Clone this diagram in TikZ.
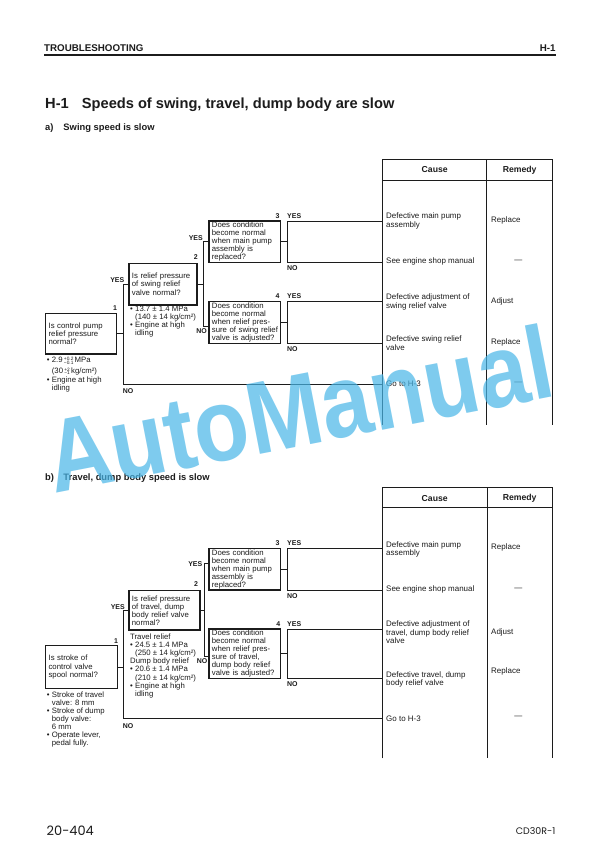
\documentclass[tikz,border=0pt]{standalone}
\usepackage{fontspec}
\usepackage{graphicx}
\setmainfont{Liberation Sans}
\newfontfamily\footf{Poppins}
\definecolor{ink}{RGB}{28,28,28}
\definecolor{wm}{RGB}{72,182,232}
\newcommand\sm{\fontsize{7.8}{8.1}\selectfont}
\newcommand\cs{\fontsize{8}{8.3}\selectfont}
\newcommand\lbf{\bfseries\fontsize{7}{7}\selectfont}
\newcommand\tp{\rule{0pt}{5.7bp}}
\newcommand\bl{\makebox[5bp][l]{•}}
\newcommand\ind{\hspace*{5bp}}
\newcommand\tol[2]{\,\raisebox{2.1bp}{\makebox[0pt][l]{\fontsize{4.8}{4.8}\selectfont #1}}\raisebox{-1.5bp}{\fontsize{4.8}{4.8}\selectfont #2}\,}
\begin{document}
\begin{tikzpicture}[x=1bp,y=-1bp,
  qbox/.style={draw=ink,line width=1.3bp,inner xsep=2.9bp,inner ysep=0pt,outer sep=0pt,align=left,font=\sm,text=ink,anchor=north west},
  note/.style={inner sep=0pt,align=left,font=\sm,anchor=north west,text=ink},
  lab/.style={inner sep=0pt,font=\lbf,text=ink},
  conn/.style={draw=ink,line width=0.9bp},
  tabl/.style={draw=ink,line width=1bp},
  cause/.style={inner sep=0pt,align=left,font=\cs,anchor=west,text=ink},
  rem/.style={inner sep=0pt,font=\cs,anchor=west,text=ink},
  remdash/.style={inner sep=0pt,font=\cs,anchor=center,text=ink},
  hd/.style={inner sep=0pt,font=\bfseries\fontsize{8.7}{9}\selectfont,text=ink},
  ttl/.style={inner sep=0pt,anchor=base west,text=ink}
]
\useasboundingbox[fill=white] (0,0) rectangle (612,862);

% ---------- page header ----------
\node[ttl,font=\bfseries\fontsize{9.8}{10}\selectfont] (hdl) at (44,51) {TROUBLESHOOTING};
\node[ttl,anchor=base east,font=\bfseries\fontsize{9.8}{10}\selectfont] (hdr) at (555.7,51) {H-1};
\draw[ink,line width=1.4bp] (44,54.8) -- (556,54.8);
\node[ttl,font=\bfseries\fontsize{14.7}{15}\selectfont] (tnum) at (45,108.5) {H-1};
\node[ttl,font=\bfseries\fontsize{14.7}{15}\selectfont] (ttxt) at (81.7,108.5) {Speeds of swing, travel, dump body are slow};
\node[ttl,font=\bfseries\fontsize{9.4}{10}\selectfont] (sa) at (45,130) {a)};
\node[ttl,font=\bfseries\fontsize{9.4}{10}\selectfont] (sat) at (63.3,130) {Swing speed is slow};
\node[ttl,font=\bfseries\fontsize{9.4}{10}\selectfont] (sb) at (45,480.5) {b)};
\node[ttl,font=\bfseries\fontsize{9.4}{10}\selectfont] (sbt) at (63.3,480.5) {Travel, dump body speed is slow};

% ================= SECTION A =================
\coordinate (Ta) at (382.7,159.3);
\draw[tabl] (382.7,425) -- (Ta) -- (552.7,159.3) -- (552.7,425);
\draw[tabl] (486.7,159.3) -- (486.7,425);
\draw[ink,line width=1.3bp] (382.7,180.7) -- (552.7,180.7);
\node[hd] (cha) at (434.7,170) {Cause};
\node[hd] (rha) at (519.7,170) {Remedy};

\node[qbox,minimum width=71bp,minimum height=40.7bp,text width=65.2bp] (q1a) at (45.7,313.3) {\mbox{Is control pump}\\\mbox{relief pressure}\\normal?};
\node[qbox,minimum width=68bp,minimum height=41.7bp,text width=62.2bp] (q2a) at (129,263.3) {\mbox{Is relief pressure}\\\mbox{of swing relief}\\\mbox{valve normal?}};
\node[qbox,minimum width=71.7bp,minimum height=41.3bp,text width=65.9bp] (q3a) at (209,221) {\mbox{Does condition}\\\mbox{become normal}\\\mbox{when main pump}\\\mbox{assembly is}\\replaced?};
\node[qbox,minimum width=71.7bp,minimum height=41.6bp,text width=65.9bp] (q4a) at (209,301.7) {\mbox{Does condition}\\\mbox{become normal}\\\mbox{when relief pres-}\\\mbox{sure of swing relief}\\\mbox{valve is adjusted?}};

\node[note] (n1a) at (46.7,356.8) {\tp\bl 2.9\tol{+0.2}{−0.1}MPa\\[2.4bp]\ind(30\tol{+2}{−1}kg/cm²)\\[0.8bp]\bl Engine at high\\\ind idling};
\node[note] (n2a) at (130,305.3) {\tp\bl 13.7 ± 1.4 MPa\\\ind(140 ± 14 kg/cm²)\\\bl Engine at high\\\ind idling};

\node[lab,anchor=base east] (l1a) at (117.3,310.8) {1};
\node[lab,anchor=base east] (l2a) at (198,259.2) {2};
\node[lab,anchor=base east] (l3a) at (279.7,218.2) {3};
\node[lab,anchor=base east] (l4a) at (279.7,298.8) {4};
\node[lab,anchor=base east] (y1a) at (124.5,282.5) {YES};
\node[lab,anchor=base west] (o1a) at (122.7,393.2) {NO};
\node[lab,anchor=base east] (y2a) at (203,240.2) {YES};
\node[lab,anchor=base east] (o2a) at (207,333.5) {NO};
\node[lab,anchor=base west] (y3a) at (287,218.2) {YES};
\node[lab,anchor=base west] (o3a) at (287,270.8) {NO};
\node[lab,anchor=base west] (y4a) at (287,298.8) {YES};
\node[lab,anchor=base west] (o4a) at (287,351.5) {NO};

\coordinate (v1a) at (123.3,384.3);
\coordinate (e5a) at (382.7,384.3);
\coordinate (v2a) at (203.3,326);
\coordinate (v3a) at (287,240);
\draw[conn] (q1a.east) -- (q1a.east -| v1a);
\draw[conn] (q2a.west) -| (v1a) -- (e5a);
\draw[conn] (q2a.east) -- (q2a.east -| v2a);
\draw[conn] (q3a.west) -| (v2a) -- (v2a -| q4a.west);
\draw[conn] (q3a.east) -- (q3a.east -| v3a);
\draw[conn] (q3a.north -| Ta) -- (q3a.north -| v3a) -- (q3a.south -| v3a) -- (q3a.south -| Ta);
\draw[conn] (q4a.east) -- (q4a.east -| v3a);
\draw[conn] (q4a.north -| Ta) -- (q4a.north -| v3a) -- (q4a.south -| v3a) -- (q4a.south -| Ta);

\node[cause] (c1a) at (386,220.9) {Defective main pump\\assembly};
\node[cause] (c2a) at (386,261.7) {See engine shop manual};
\node[cause] (c3a) at (386,302) {Defective adjustment of\\swing relief valve};
\node[cause] (c4a) at (386,343.2) {Defective swing relief\\valve};
\node[cause] (c5a) at (386,383.8) {Go to H-3};
\node[rem] (m1a) at (491,220.7) {Replace};
\node[remdash] (m2a) at (518.3,261.3) {—};
\node[rem] (m3a) at (491,301.7) {Adjust};
\node[rem] (m4a) at (491,342.3) {Replace};
\node[remdash] (m5a) at (518.3,383.3) {—};

% ================= SECTION B =================
\coordinate (Tb) at (382.7,487.3);
\draw[tabl] (382.7,758.3) -- (Tb) -- (552.7,487.3) -- (552.7,758.3);
\draw[tabl] (487.3,487.3) -- (487.3,758.3);
\draw[ink,line width=1.3bp] (382.7,507.7) -- (552.7,507.7);
\node[hd] (chb) at (434.7,498.3) {Cause};
\node[hd] (rhb) at (519.7,498.3) {Remedy};

\node[qbox,minimum width=71.6bp,minimum height=42.6bp,text width=65.8bp] (q1b) at (45.7,645.7) {\mbox{Is stroke of}\\\mbox{control valve}\\\mbox{spool normal?}};
\node[qbox,minimum width=71bp,minimum height=39.3bp,text width=65.2bp] (q2b) at (129,590.7) {\mbox{Is relief pressure}\\\mbox{of travel, dump}\\\mbox{body relief valve}\\normal?};
\node[qbox,minimum width=71.7bp,minimum height=41.7bp,text width=65.9bp] (q3b) at (209,548.3) {\mbox{Does condition}\\\mbox{become normal}\\\mbox{when main pump}\\\mbox{assembly is}\\replaced?};
\node[qbox,minimum width=71.7bp,minimum height=49.3bp,text width=65.9bp] (q4b) at (209,629) {\mbox{Does condition}\\\mbox{become normal}\\\mbox{when relief pres-}\\\mbox{sure of travel,}\\\mbox{dump body relief}\\\mbox{valve is adjusted?}};

\node[note] (n1b) at (46.7,691.5) {\tp\bl Stroke of travel\\\ind valve: 8 mm\\\bl Stroke of dump\\\ind body valve:\\\ind 6 mm\\\bl Operate lever,\\\ind pedal fully.};
\node[note] (n2b) at (130,633.8) {\tp Travel relief\\\bl 24.5 ± 1.4 MPa\\\ind(250 ± 14 kg/cm²)\\Dump body relief\\\bl 20.6 ± 1.4 MPa\\\ind(210 ± 14 kg/cm²)\\\bl Engine at high\\\ind idling};

\node[lab,anchor=base east] (l1b) at (118.3,643.5) {1};
\node[lab,anchor=base east] (l2b) at (198.3,586.8) {2};
\node[lab,anchor=base east] (l3b) at (279.7,545.8) {3};
\node[lab,anchor=base east] (l4b) at (280.5,626.5) {4};
\node[lab,anchor=base east] (y1b) at (125,609.8) {YES};
\node[lab,anchor=base west] (o1b) at (122.7,728.5) {NO};
\node[lab,anchor=base east] (y2b) at (202.5,566) {YES};
\node[lab,anchor=base east] (o2b) at (207.5,663.5) {NO};
\node[lab,anchor=base west] (y3b) at (287,545.8) {YES};
\node[lab,anchor=base west] (o3b) at (287,598.2) {NO};
\node[lab,anchor=base west] (y4b) at (287,626.5) {YES};
\node[lab,anchor=base west] (o4b) at (287,686.5) {NO};

\coordinate (v1b) at (123.3,718.3);
\coordinate (e5b) at (382.7,718.3);
\coordinate (t2b) at (204,563.5);
\coordinate (v2b) at (204,656);
\coordinate (v3b) at (287,600);
\draw[conn] (q1b.east) -- (q1b.east -| v1b);
\draw[conn] (q2b.west) -| (v1b) -- (e5b);
\draw[conn] (q2b.east) -- (q2b.east -| v2b);
\draw[conn] (t2b -| q3b.west) -- (t2b) -- (v2b) -- (v2b -| q4b.west);
\draw[conn] (q3b.east) -- (q3b.east -| v3b);
\draw[conn] (q3b.north -| Tb) -- (q3b.north -| v3b) -- (q3b.south -| v3b) -- (q3b.south -| Tb);
\draw[conn] (q4b.east) -- (q4b.east -| v3b);
\draw[conn] (q4b.north -| Tb) -- (q4b.north -| v3b) -- (q4b.south -| v3b) -- (q4b.south -| Tb);

\node[cause] (c1b) at (386,549.2) {Defective main pump\\assembly};
\node[cause] (c2b) at (386,589.6) {See engine shop manual};
\node[cause] (c3b) at (386,632.3) {Defective adjustment of\\travel, dump body relief\\valve};
\node[cause] (c4b) at (386,679.5) {Defective travel, dump\\body relief valve};
\node[cause] (c5b) at (386,718.5) {Go to H-3};
\node[rem] (m1b) at (491,547.3) {Replace};
\node[remdash] (m2b) at (518.3,589.3) {—};
\node[rem] (m3b) at (491,632.3) {Adjust};
\node[rem] (m4b) at (491,671.7) {Replace};
\node[remdash] (m5b) at (518.3,717.7) {—};

% ---------- footer ----------
\node[ttl,font=\footf\fontsize{13}{14}\selectfont] (fl) at (46.5,835) {20-404};
\node[ttl,anchor=base east,font=\footf\fontsize{9.5}{10}\selectfont] (fr) at (555.5,834) {CD30R-1};

% ---------- watermark ----------
\node[inner sep=0pt,anchor=base west,rotate=11,text=wm,opacity=0.7,font=\bfseries\fontsize{90}{90}\selectfont] (wmk) at (54,494) {\scalebox{1}[1.15]{AutoManual}};
\end{tikzpicture}
\end{document}
